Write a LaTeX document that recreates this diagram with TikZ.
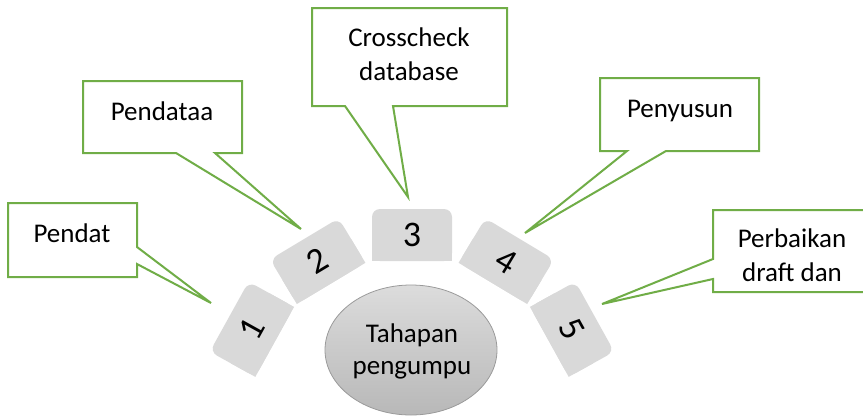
\documentclass[tikz,border=0pt]{standalone}
\usepackage{fontspec}
\setmainfont{Carlito}
\usetikzlibrary{shapes.geometric}
\definecolor{cgreen}{HTML}{70AD47}
\definecolor{tilegray}{HTML}{D9D9D9}
\definecolor{elltop}{HTML}{DCDCDC}
\definecolor{ellbot}{HTML}{B8B8B8}
\definecolor{ellline}{HTML}{9A9A9A}
\begin{document}
\begin{tikzpicture}[x=1pt,y=-1pt,
  callout/.style={draw=cgreen, line width=2pt, fill=white, line join=miter},
  lbl/.style={anchor=base, inner sep=0pt, font=\fontsize{27}{34}\selectfont},
  tilebox/.style={fill=tilegray},
  digit/.style={font=\fontsize{36}{40}\selectfont, inner sep=0pt}]
\useasboundingbox (0,0) rectangle (863,416);
\clip (0,0) rectangle (863,416);

% central ellipse
\node[ellipse, draw=ellline, line width=0.8pt, top color=elltop, bottom color=ellbot,
      minimum width=172pt, minimum height=130pt, inner sep=0pt] (hub) at (411,350) {};
\node[lbl] (hubA) at (412,342) {Tahapan};
\node[lbl] (hubB) at (412,374) {pengumpu};

% tiles on arc
\foreach \a/\n in {151/1,121/2,90/3,59/4,29/5} {
  \begin{scope}[shift={(412,418)}, rotate=\a-90, transform shape]
    \fill[tilebox, rounded corners=8pt] (-40,-157) rectangle (40,-209);
    \fill[tilebox] (-40,-157) rectangle (40,-185);
    \node[digit] (tile\n) at (0,-183) {\n};
  \end{scope}
}

% callouts
\draw[callout] (8,203) -- (137,203) -- (137,247) -- (211,303) -- (137,264) -- (137,277) -- (8,277) -- cycle;
\node[lbl] (c1) at (72,242) {Pendat};

\draw[callout] (83,81) -- (242,81) -- (242,153) -- (215,153) -- (301,229) -- (176,153) -- (83,153) -- cycle;
\node[lbl] (c2) at (162,120) {Pendataa};

\draw[callout] (312,8) -- (507,8) -- (507,106) -- (393,106) -- (408,197) -- (345,106) -- (312,106) -- cycle;
\node[lbl] (c3a) at (409,46) {Crosscheck};
\node[lbl] (c3b) at (409,80) {database};

\draw[callout] (600,78) -- (759,78) -- (759,151) -- (666,151) -- (525,233) -- (627,151) -- (600,151) -- cycle;
\node[lbl] (c4) at (680,117) {Penyusun};

\draw[callout] (713,210) -- (880,210) -- (880,292) -- (713,292) -- (713,279) -- (602,304) -- (713,259) -- cycle;
\node[lbl] (c5a) at (792,247) {Perbaikan};
\node[lbl] (c5b) at (792,281) {draft dan};
\end{tikzpicture}
\end{document}
